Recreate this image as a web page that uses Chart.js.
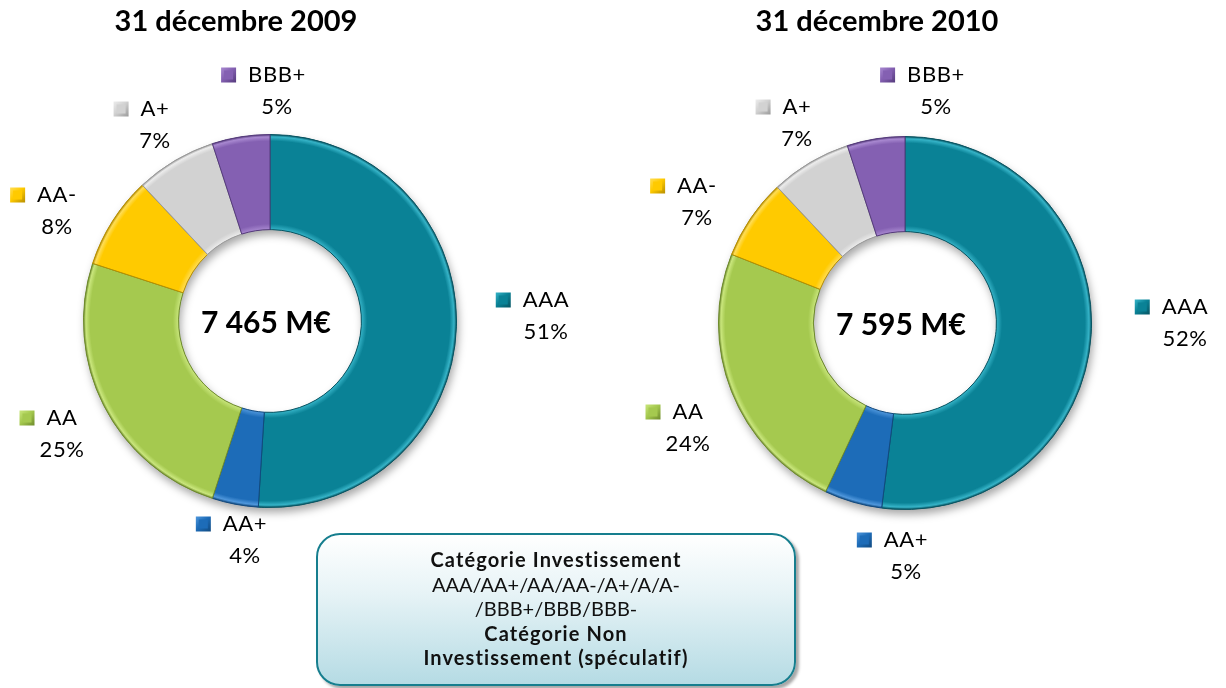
<!DOCTYPE html>
<html lang="fr">
<head>
<meta charset="utf-8">
<title>Répartition du portefeuille par notation</title>
<script src="https://cdn.jsdelivr.net/npm/chart.js@4.4.1/dist/chart.umd.min.js"></script>
<style>
  html, body { margin: 0; padding: 0; background: #fff; }
  body { width: 1226px; height: 688px; position: relative; overflow: hidden; font-family: Lato, "Open Sans", sans-serif; }
  .pane { position: absolute; top: 0; width: 613px; height: 688px; }
  #paneLeft { left: 0; }
  #paneRight { left: 613px; }
  .note {
    position: absolute; left: 316px; top: 533px; width: 480px; height: 153px;
    box-sizing: border-box; padding-top: 12px;
    border: 2.5px solid #167e8e; border-radius: 24px;
    background: linear-gradient(#ffffff 0%, #e6f3f6 40%, #b5dbe4 100%);
    box-shadow: 3px 3px 3px rgba(0,0,0,0.35);
    text-align: center; font-size: 20px; line-height: 24.5px; color: #111;
  }
  .note b { letter-spacing: 1.1px; }
</style>
</head>
<body>
<div class="pane" id="paneLeft"><canvas id="ring2009"></canvas></div>
<div class="pane" id="paneRight"><canvas id="ring2010"></canvas></div>
<div class="note">
  <b>Catégorie Investissement</b><br>
  AAA/AA+/AA/AA-/A+/A/A-<br>
  /BBB+/BBB/BBB-<br>
  <b>Catégorie Non</b><br>
  <b>Investissement (spéculatif)</b>
</div>

<script>
// Ratings and their share of the portfolio (%)
const ratings = ["AAA", "AA+", "AA", "AA-", "A+", "BBB+"];
const share2009 = [51, 4, 25, 8, 7, 5];
const share2010 = [52, 5, 24, 7, 7, 5];
const totals = ["7 465 M€", "7 595 M€"];
const titles = ["31 décembre 2009", "31 décembre 2010"];

// colours: face, edge line, highlight
const faceColors = ["#0a8296", "#1d6cb8", "#a5c94f", "#ffca00", "#d2d2d2", "#8460b2"];
const edgeColors = ["#075563", "#114a80", "#6f8c2c", "#b88f00", "#9a9a9a", "#553a7c"];
const lightColors = ["#35b3c7", "#4f97dc", "#c9e67c", "#ffdd55", "#ececec", "#a888d0"];

// label spots around each ring, offsets from the ring centre
const labelSpots2009 = [[276, -21], [-25, 203], [-208, 97], [-213, -126], [-115, -212], [7, -246]];
const labelSpots2010 = [[280, -16], [1, 217], [-217, 89], [-208, -137], [-108, -216], [31, -248]];

const CUTOUT = 0.49;

function ringGeom(chart) {
  const ctrl = chart.getDatasetMeta(0).controller;
  const a = chart.chartArea;
  return {
    cx: (a.left + a.right) / 2 + (ctrl.offsetX || 0),
    cy: (a.top + a.bottom) / 2 + (ctrl.offsetY || 0),
    r0: ctrl.innerRadius,
    r1: ctrl.outerRadius
  };
}

// soft bevel: light inner rim, faint outer lip
function bevelFill(c) {
  const i = c.dataIndex;
  const chart = c.chart;
  if (!chart.chartArea) return faceColors[i];
  const g = ringGeom(chart);
  if (!g.r1) return faceColors[i];
  const grad = chart.ctx.createRadialGradient(g.cx, g.cy, g.r0, g.cx, g.cy, g.r1);
  grad.addColorStop(0, lightColors[i]);
  grad.addColorStop(0.06, faceColors[i]);
  grad.addColorStop(0.93, faceColors[i]);
  grad.addColorStop(0.975, lightColors[i]);
  grad.addColorStop(1, edgeColors[i]);
  return grad;
}

function drawMarker(ctx, x, y, s, i) {
  const grad = ctx.createLinearGradient(x, y, x + s, y + s);
  grad.addColorStop(0, lightColors[i]);
  grad.addColorStop(0.45, faceColors[i]);
  grad.addColorStop(1, edgeColors[i]);
  ctx.fillStyle = grad;
  ctx.fillRect(x, y, s, s);
  ctx.fillStyle = faceColors[i];
  ctx.fillRect(x + 3, y + 3, s - 6, s - 6);
}

function ringDecor(title, titleX, total, spots, values) {
  return {
    id: "ringDecor",
    beforeDatasetsDraw(chart) {
      const ctx = chart.ctx;
      const g = ringGeom(chart);
      ctx.save();
      ctx.shadowColor = "rgba(0,0,0,0.35)";
      ctx.shadowBlur = 9;
      ctx.shadowOffsetX = 2;
      ctx.shadowOffsetY = 5;
      ctx.beginPath();
      ctx.arc(g.cx, g.cy, g.r1, 0, Math.PI * 2);
      ctx.arc(g.cx, g.cy, g.r0, 0, Math.PI * 2, true);
      ctx.fillStyle = "#777";
      ctx.fill("evenodd");
      ctx.restore();
    },
    afterDatasetsDraw(chart) {
      const ctx = chart.ctx;
      const g = ringGeom(chart);
      ctx.save();
      ctx.fillStyle = "#000";
      ctx.textAlign = "center";
      ctx.textBaseline = "middle";

      ctx.font = "bold 29px Lato";
      ctx.fillText(title, titleX, 22);

      ctx.font = "bold 30px Lato";
      ctx.fillText(total, g.cx - 4, g.cy + 2);

      ctx.font = "22px Lato";
      ctx.letterSpacing = "0.6px";
      values.forEach((v, i) => {
        const x = g.cx + spots[i][0];
        const y = g.cy + spots[i][1];
        ctx.fillStyle = "#000";
        ctx.fillText(ratings[i], x, y);
        ctx.fillText(v + "%", x, y + 32);
        const w = ctx.measureText(ratings[i]).width;
        drawMarker(ctx, x - w / 2 - 27, y - 7.5, 15, i);
      });
      ctx.restore();
    }
  };
}

function makeRing(id, values, title, titleX, total, spots, padding) {
  return new Chart(document.getElementById(id), {
    type: "doughnut",
    data: {
      labels: ratings,
      datasets: [{
        data: values,
        backgroundColor: bevelFill,
        borderColor: edgeColors,
        borderWidth: 1
      }]
    },
    options: {
      responsive: true,
      maintainAspectRatio: false,
      animation: false,
      events: [],
      cutout: (CUTOUT * 100) + "%",
      rotation: 0,
      layout: { padding: padding },
      plugins: {
        legend: { display: false },
        tooltip: { enabled: false }
      }
    },
    plugins: [ringDecor(title, titleX, total, spots, values)]
  });
}

makeRing("ring2009", share2009, titles[0], 236, totals[0], labelSpots2009,
  { left: 83, right: 156, top: 134, bottom: 180 });
makeRing("ring2010", share2010, titles[1], 264, totals[1], labelSpots2010,
  { left: 105, right: 134, top: 136, bottom: 178 });
</script>
</body>
</html>
